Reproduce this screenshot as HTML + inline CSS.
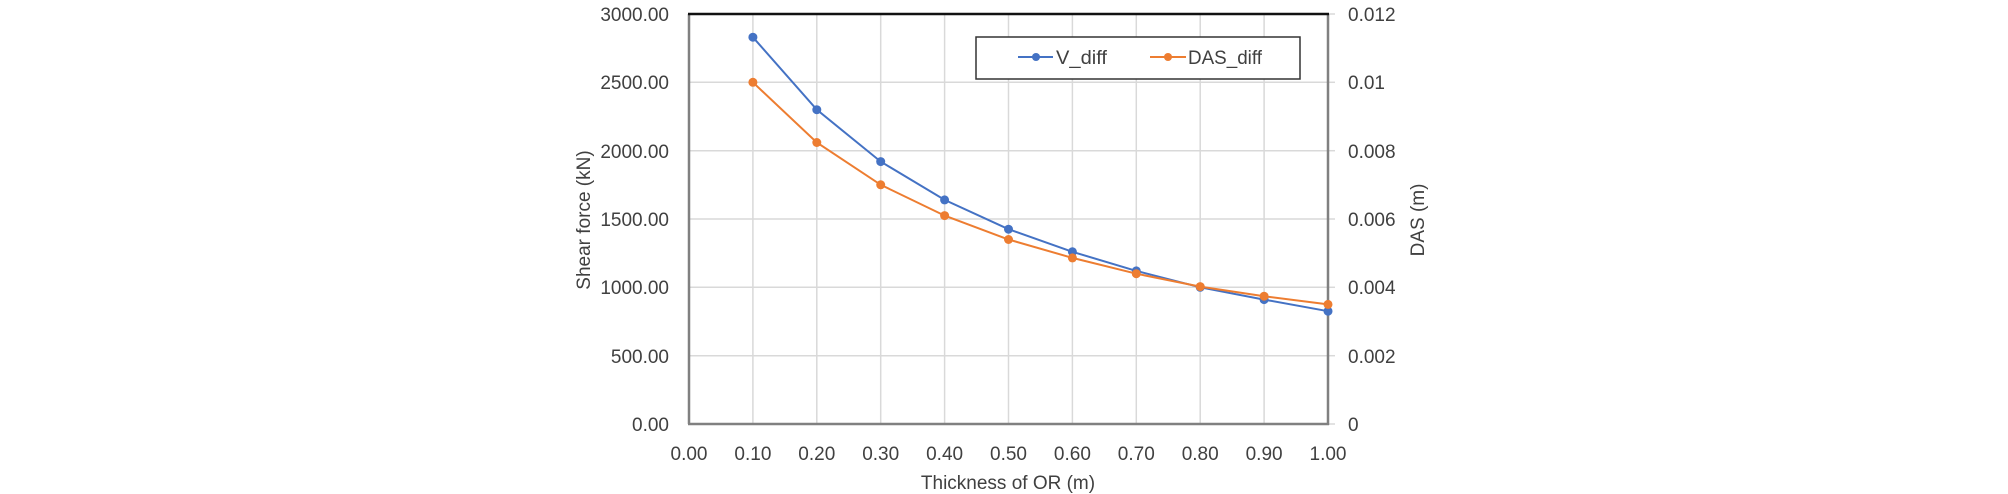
<!DOCTYPE html>
<html><head><meta charset="utf-8"><style>
html,body{margin:0;padding:0;background:#fff;}
svg{display:block;}
text{font-family:"Liberation Sans",Arial,sans-serif;fill:#404040;}
</style></head><body>
<svg width="2008" height="494" viewBox="0 0 2008 494" xmlns="http://www.w3.org/2000/svg">
<g stroke="#d9d9d9" stroke-width="1.5">
<line x1="689" y1="82.3" x2="1328" y2="82.3"/>
<line x1="689" y1="150.7" x2="1328" y2="150.7"/>
<line x1="689" y1="219" x2="1328" y2="219"/>
<line x1="689" y1="287.3" x2="1328" y2="287.3"/>
<line x1="689" y1="355.7" x2="1328" y2="355.7"/>
<line x1="752.9" y1="14" x2="752.9" y2="424"/>
<line x1="816.8" y1="14" x2="816.8" y2="424"/>
<line x1="880.7" y1="14" x2="880.7" y2="424"/>
<line x1="944.6" y1="14" x2="944.6" y2="424"/>
<line x1="1008.5" y1="14" x2="1008.5" y2="424"/>
<line x1="1072.4" y1="14" x2="1072.4" y2="424"/>
<line x1="1136.3" y1="14" x2="1136.3" y2="424"/>
<line x1="1200.2" y1="14" x2="1200.2" y2="424"/>
<line x1="1264.1" y1="14" x2="1264.1" y2="424"/>
</g>
<g stroke="#d9d9d9" stroke-width="1.5">
<line x1="1329" y1="14" x2="1335" y2="14"/><line x1="1329" y1="82.3" x2="1335" y2="82.3"/><line x1="1329" y1="150.7" x2="1335" y2="150.7"/><line x1="1329" y1="219" x2="1335" y2="219"/><line x1="1329" y1="287.3" x2="1335" y2="287.3"/><line x1="1329" y1="355.7" x2="1335" y2="355.7"/><line x1="1329" y1="424" x2="1335" y2="424"/>
</g>
<g fill="none" stroke="#808080" stroke-width="2.5">
<line x1="689" y1="14" x2="689" y2="424"/>
<line x1="688" y1="424" x2="1329" y2="424"/>
<line x1="1328" y1="14" x2="1328" y2="425"/>
</g>
<line x1="688" y1="14" x2="1329" y2="14" stroke="#111" stroke-width="2.5"/>
<polyline fill="none" stroke="#4472C4" stroke-width="2" points="752.9,37.2 816.8,109.7 880.7,161.6 944.6,199.9 1008.5,229.2 1072.4,251.8 1136.3,270.9 1200.2,287.3 1264.1,299.6 1328,311.2"/>
<g fill="#4472C4">
<circle cx="752.9" cy="37.2" r="4.5"/><circle cx="816.8" cy="109.7" r="4.5"/><circle cx="880.7" cy="161.6" r="4.5"/><circle cx="944.6" cy="199.9" r="4.5"/><circle cx="1008.5" cy="229.2" r="4.5"/><circle cx="1072.4" cy="251.8" r="4.5"/><circle cx="1136.3" cy="270.9" r="4.5"/><circle cx="1200.2" cy="287.3" r="4.5"/><circle cx="1264.1" cy="299.6" r="4.5"/><circle cx="1328" cy="311.2" r="4.5"/>
</g>
<polyline fill="none" stroke="#ED7D31" stroke-width="2" points="752.9,82.3 816.8,142.5 880.7,184.8 944.6,215.6 1008.5,239.5 1072.4,257.9 1136.3,273.7 1200.2,286.6 1264.1,296.2 1328,304.4"/>
<g fill="#ED7D31">
<circle cx="752.9" cy="82.3" r="4.5"/><circle cx="816.8" cy="142.5" r="4.5"/><circle cx="880.7" cy="184.8" r="4.5"/><circle cx="944.6" cy="215.6" r="4.5"/><circle cx="1008.5" cy="239.5" r="4.5"/><circle cx="1072.4" cy="257.9" r="4.5"/><circle cx="1136.3" cy="273.7" r="4.5"/><circle cx="1200.2" cy="286.6" r="4.5"/><circle cx="1264.1" cy="296.2" r="4.5"/><circle cx="1328" cy="304.4" r="4.5"/>
</g>
<rect x="976" y="37" width="324" height="42" fill="#fff" stroke="#333" stroke-width="1.5"/>
<line x1="1018" y1="57" x2="1053" y2="57" stroke="#4472C4" stroke-width="2"/><circle cx="1036" cy="57" r="4" fill="#4472C4"/>
<text x="1056" y="64" font-size="19" textLength="51" lengthAdjust="spacingAndGlyphs">V_diff</text>
<line x1="1150" y1="57" x2="1186" y2="57" stroke="#ED7D31" stroke-width="2"/><circle cx="1168" cy="57" r="4" fill="#ED7D31"/>
<text x="1188" y="64" font-size="19" textLength="74" lengthAdjust="spacingAndGlyphs">DAS_diff</text>
<g font-size="19" text-anchor="end">
<text x="669" y="21">3000.00</text>
<text x="669" y="89">2500.00</text>
<text x="669" y="158">2000.00</text>
<text x="669" y="226">1500.00</text>
<text x="669" y="294">1000.00</text>
<text x="669" y="363">500.00</text>
<text x="669" y="431">0.00</text>
</g>
<g font-size="19">
<text x="1348" y="21">0.012</text>
<text x="1348" y="89">0.01</text>
<text x="1348" y="158">0.008</text>
<text x="1348" y="226">0.006</text>
<text x="1348" y="294">0.004</text>
<text x="1348" y="363">0.002</text>
<text x="1348" y="431">0</text>
</g>
<g font-size="19" text-anchor="middle">
<text x="689" y="460">0.00</text><text x="752.9" y="460">0.10</text><text x="816.8" y="460">0.20</text><text x="880.7" y="460">0.30</text><text x="944.6" y="460">0.40</text><text x="1008.5" y="460">0.50</text><text x="1072.4" y="460">0.60</text><text x="1136.3" y="460">0.70</text><text x="1200.2" y="460">0.80</text><text x="1264.1" y="460">0.90</text><text x="1328" y="460">1.00</text>
</g>
<text x="1008" y="489" font-size="19" text-anchor="middle">Thickness of OR (m)</text>
<text transform="translate(590,220) rotate(-90)" font-size="19" text-anchor="middle">Shear force (kN)</text>
<text transform="translate(1424,220) rotate(-90)" font-size="19" text-anchor="middle">DAS (m)</text>
</svg>
</body></html>
